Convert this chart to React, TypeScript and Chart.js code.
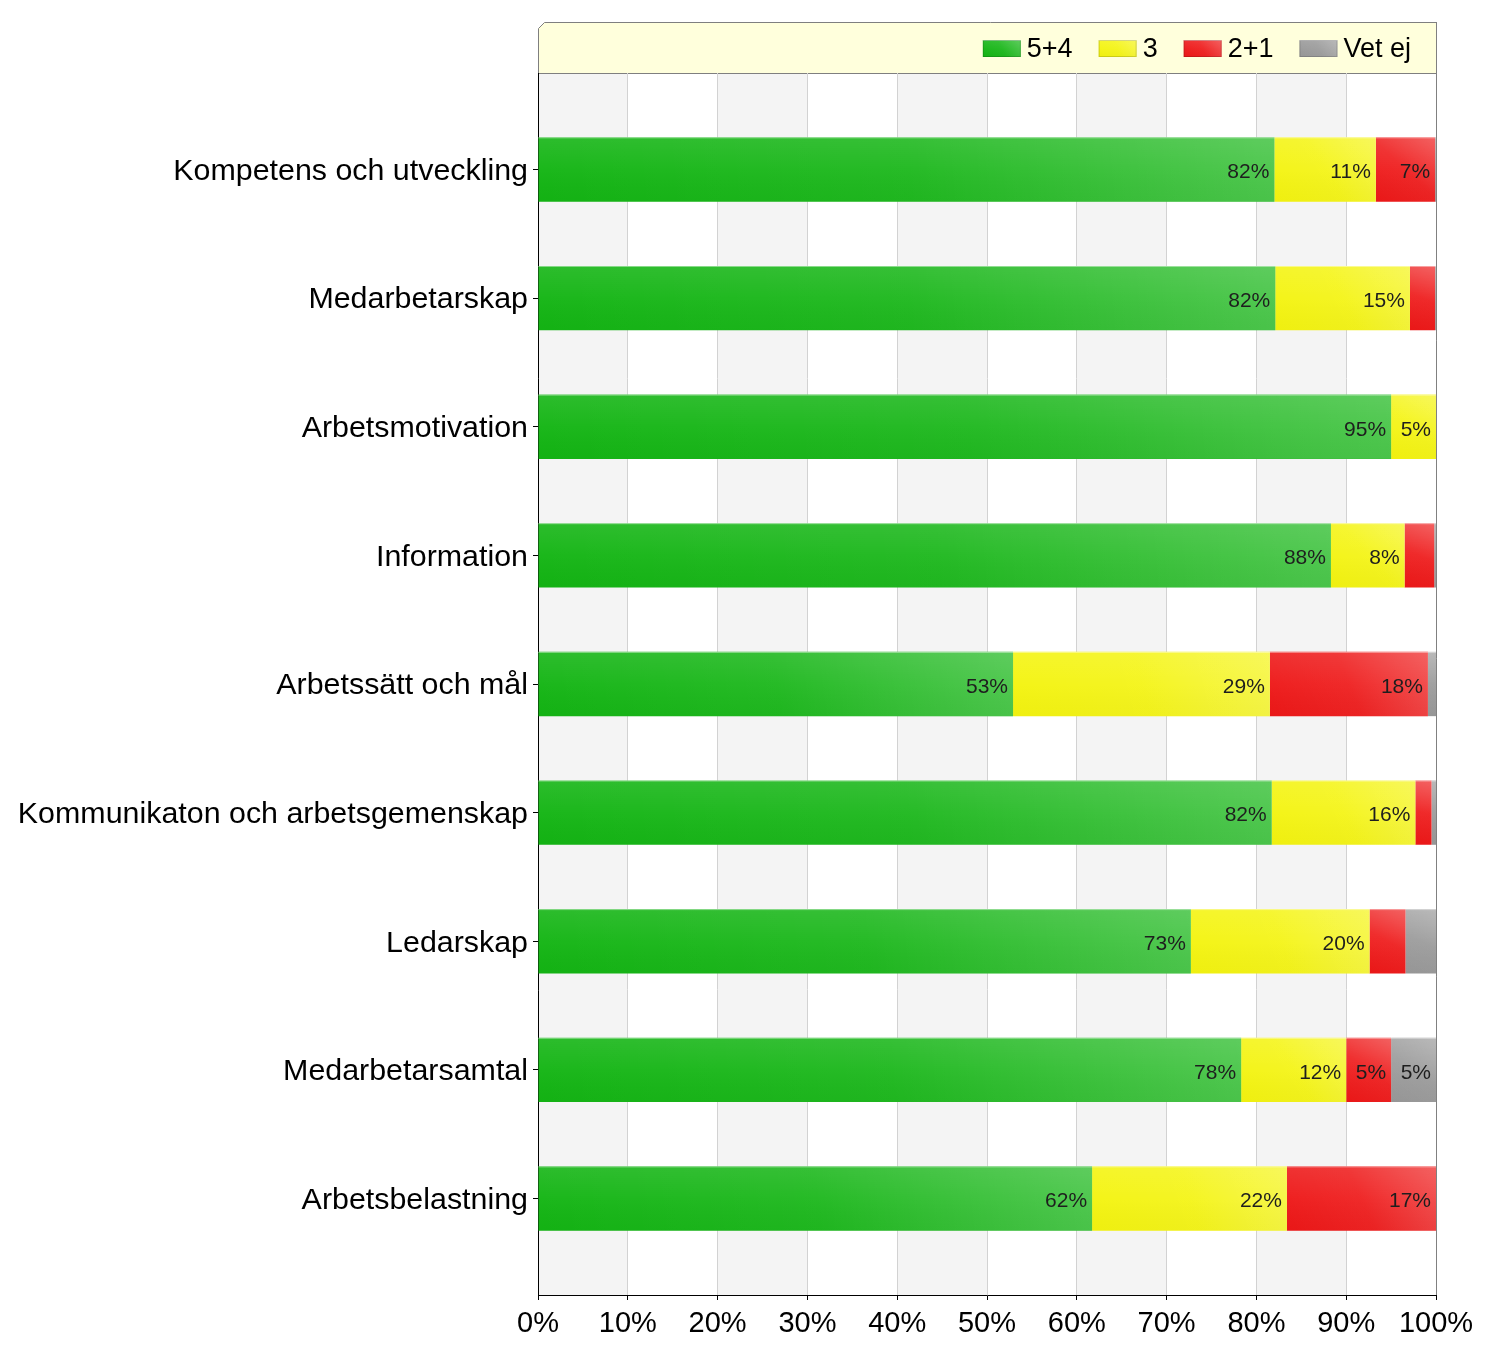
import React, { useEffect, useRef } from 'react';
import { Chart, registerables } from 'chart.js';

Chart.register(...registerables);

const categories = [
  'Kompetens och utveckling',
  'Medarbetarskap',
  'Arbetsmotivation',
  'Information',
  'Arbetssätt och mål',
  'Kommunikaton och arbetsgemenskap',
  'Ledarskap',
  'Medarbetarsamtal',
  'Arbetsbelastning',
];

const seriesNames = ['5+4', '3', '2+1', 'Vet ej'];

const positive = [82.0, 82.1, 95.0, 88.3, 52.9, 81.7, 72.7, 78.3, 61.7];
const neutral = [11.3, 15.0, 5.0, 8.2, 28.6, 16.0, 19.9, 11.7, 21.7];
const negative = [6.6, 2.8, 0, 3.3, 17.6, 1.8, 4.0, 5.0, 16.6];
const dontKnow = [0.1, 0.1, 0, 0.2, 0.9, 0.5, 3.4, 5.0, 0];

const xTicks = [0, 10, 20, 30, 40, 50, 60, 70, 80, 90, 100];

const seriesColors = ['#14b514', '#f4f410', '#ee1818', '#999999'];

const FONT = '"Liberation Sans", Arial, Helvetica, sans-serif';
const LABEL_MIN = 4.5;

function shadeRect(ctx: CanvasRenderingContext2D, left: number, top: number, w: number, h: number) {
  if (w <= 0 || h <= 0) return;
  ctx.save();
  const g = ctx.createLinearGradient(left, top + h, left + w, top);
  g.addColorStop(0, 'rgba(255,255,255,0)');
  g.addColorStop(0.5, 'rgba(255,255,255,0.05)');
  g.addColorStop(1, 'rgba(255,255,255,0.24)');
  ctx.fillStyle = g;
  ctx.fillRect(left, top, w, h);
  const v = ctx.createLinearGradient(0, top, 0, top + h);
  v.addColorStop(0, 'rgba(255,255,255,0.10)');
  v.addColorStop(0.5, 'rgba(255,255,255,0.03)');
  v.addColorStop(1, 'rgba(0,0,0,0.02)');
  ctx.fillStyle = v;
  ctx.fillRect(left, top, w, h);
  ctx.fillStyle = 'rgba(255,255,255,0.45)';
  ctx.fillRect(left, top, w, 1);
  ctx.restore();
}

const decorPlugin = {
  id: 'decor',
  beforeDraw(chart: any) {
    const { ctx, chartArea, scales } = chart;
    const xs = scales.x;
    ctx.save();
    for (let i = 0; i < xTicks.length - 1; i++) {
      const a = xs.getPixelForValue(xTicks[i]);
      const b = xs.getPixelForValue(xTicks[i + 1]);
      ctx.fillStyle = i % 2 === 0 ? '#f4f4f4' : '#ffffff';
      ctx.fillRect(a, chartArea.top, b - a, chartArea.bottom - chartArea.top);
    }
    const L = chartArea.left + 0.5;
    const R = chartArea.right + 0.5;
    const T = 22.5;
    const B = chartArea.top + 0.5;
    const c = 6;
    ctx.beginPath();
    ctx.moveTo(L, B);
    ctx.lineTo(L, T + c);
    ctx.lineTo(L + c, T);
    ctx.lineTo(R, T);
    ctx.lineTo(R, B);
    ctx.closePath();
    ctx.fillStyle = '#ffffdc';
    ctx.fill();
    ctx.strokeStyle = '#7f7f7f';
    ctx.lineWidth = 1;
    ctx.stroke();

    ctx.font = `27px ${FONT}`;
    const sw = 38;
    const sh = 17;
    const gapText = 6;
    const gapItem = 26;
    const widths = seriesNames.map((n) => ctx.measureText(n).width);
    let total = 0;
    widths.forEach((w, i) => {
      total += sw + gapText + w + (i < widths.length - 1 ? gapItem : 0);
    });
    let x = chartArea.right - 25 - total;
    const cy = (22 + chartArea.top) / 2 + 1;
    seriesNames.forEach((n, i) => {
      const col = chart.data.datasets[i].backgroundColor;
      ctx.fillStyle = col;
      ctx.fillRect(x, cy - sh / 2, sw, sh);
      shadeRect(ctx, x, cy - sh / 2, sw, sh);
      ctx.strokeStyle = 'rgba(0,0,0,0.15)';
      ctx.strokeRect(x + 0.5, cy - sh / 2 + 0.5, sw - 1, sh - 1);
      ctx.fillStyle = '#000';
      ctx.textAlign = 'left';
      ctx.textBaseline = 'middle';
      ctx.fillText(n, x + sw + gapText, cy + 1);
      x += sw + gapText + widths[i] + gapItem;
    });
    ctx.restore();
  },
  afterDatasetsDraw(chart: any) {
    const { ctx } = chart;
    ctx.save();
    chart.data.datasets.forEach((ds: any, di: number) => {
      const meta = chart.getDatasetMeta(di);
      meta.data.forEach((el: any) => {
        const p = el.getProps(['x', 'y', 'base', 'height'], true);
        const left = Math.min(p.x, p.base);
        const right = Math.max(p.x, p.base);
        const top = p.y - p.height / 2;
        shadeRect(ctx, left, top, right - left, p.height);
      });
    });
    chart.data.datasets.forEach((ds: any, di: number) => {
      const meta = chart.getDatasetMeta(di);
      meta.data.forEach((el: any, i: number) => {
        const v = ds.data[i].x;
        if (v < LABEL_MIN) return;
        const p = el.getProps(['x', 'y', 'base'], true);
        const right = Math.max(p.x, p.base);
        ctx.font = `21px ${FONT}`;
        ctx.fillStyle = '#1e1e1e';
        ctx.textAlign = 'right';
        ctx.textBaseline = 'middle';
        ctx.fillText(`${Math.round(v)}%`, right - 5, p.y + 3);
      });
    });
    ctx.restore();
  },
  afterDraw(chart: any) {
    const { ctx, chartArea } = chart;
    ctx.save();
    ctx.strokeStyle = '#808080';
    ctx.lineWidth = 1;
    ctx.beginPath();
    ctx.moveTo(chartArea.right + 0.5, 22);
    ctx.lineTo(chartArea.right + 0.5, chartArea.bottom);
    ctx.stroke();
    ctx.restore();
  },
};

export default function App() {
  const ref = useRef<HTMLCanvasElement | null>(null);

  useEffect(() => {
    if (!ref.current) return;
    const seriesValues = [positive, neutral, negative, dontKnow];
    const chart = new Chart(ref.current, {
      type: 'bar',
      data: {
        datasets: seriesValues.map((vals, k) => ({
          label: seriesNames[k],
          data: vals.map((v, i) => ({ x: v, y: i })),
          backgroundColor: seriesColors[k],
          borderWidth: 0,
          barPercentage: 0.5,
          categoryPercentage: 1.0,
        })),
      },
      options: {
        animation: false,
        responsive: false,
        indexAxis: 'y',
        layout: { padding: { top: 73, right: 64, left: 0, bottom: 0 } },
        plugins: {
          legend: { display: false },
          tooltip: { enabled: false },
        },
        scales: {
          x: {
            type: 'linear',
            min: 0,
            max: 100,
            bounds: 'data',
            offset: false,
            stacked: true,
            position: 'bottom',
            afterBuildTicks: (s: any) => {
              s.ticks = xTicks.map((v) => ({ value: v }));
            },
            afterFit: (s: any) => {
              s.height = 59;
            },
            grid: {
              color: '#d2d2d2',
              lineWidth: 1,
              tickColor: '#000',
              tickLength: 5,
              offset: false,
            },
            border: { color: '#000', width: 1 },
            ticks: {
              callback: (v: any) => `${v}%`,
              font: { family: FONT, size: 29 },
              color: '#000',
              padding: 7,
              maxRotation: 0,
              autoSkip: false,
            },
          },
          y: {
            type: 'linear',
            min: -0.75,
            max: 8.75,
            bounds: 'data',
            offset: false,
            reverse: true,
            stacked: true,
            afterBuildTicks: (s: any) => {
              s.ticks = categories.map((_, i) => ({ value: i }));
            },
            afterFit: (s: any) => {
              s.width = 538;
            },
            grid: {
              drawOnChartArea: false,
              offset: false,
              tickColor: '#000',
              tickLength: 5,
            },
            border: { color: '#000', width: 1 },
            ticks: {
              callback: (v: any) => categories[v] ?? '',
              font: { family: FONT, size: 30.4 },
              color: '#000',
              padding: 5,
              labelOffset: 2,
              autoSkip: false,
            },
          },
        },
      } as any,
      plugins: [decorPlugin],
    });
    return () => chart.destroy();
  }, []);

  return (
    <div style={{ position: 'absolute', left: 0, top: 0, width: 1500, height: 1354, background: '#fff' }}>
      <canvas ref={ref} width={1500} height={1354} style={{ width: 1500, height: 1354, display: 'block' }} />
    </div>
  );
}
